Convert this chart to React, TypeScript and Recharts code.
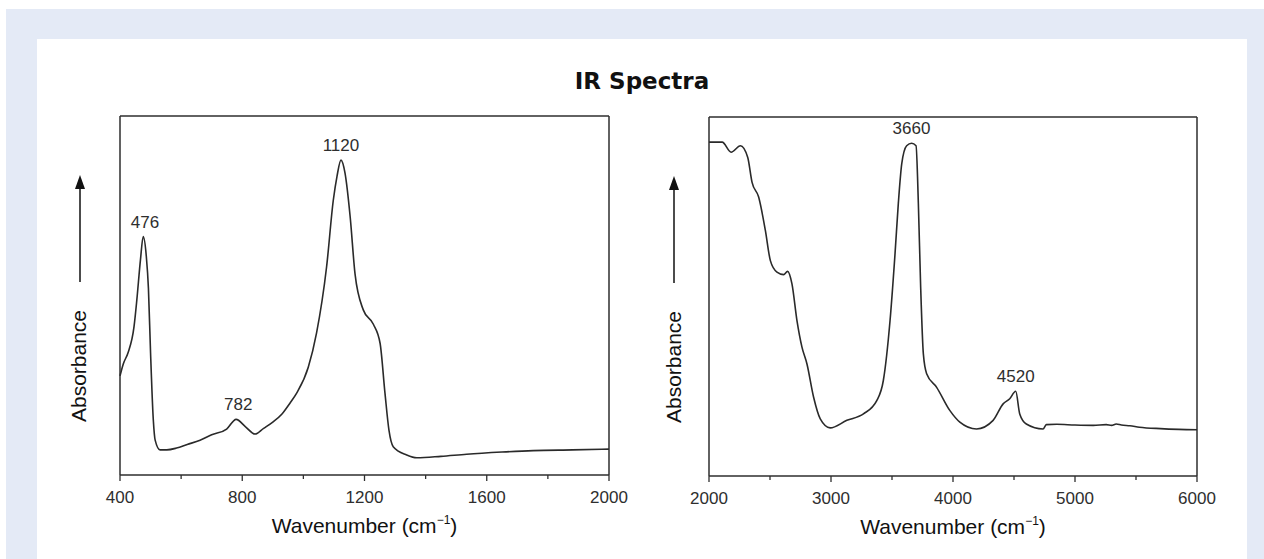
import { LineChart, Line, XAxis, YAxis, ReferenceLine, ReferenceDot } from 'recharts';

// mid-IR panel (400–2000 cm-1)
const midWavenumbers = [
  400, 411, 426, 446, 455, 467, 476, 486, 493, 500, 509, 515, 531, 553, 585, 620, 662, 700, 749,
  780, 810, 842, 870, 901, 930, 956, 978, 1016, 1043, 1076, 1098, 1110, 1123, 1136, 1153, 1169,
  1196, 1229, 1251, 1267, 1280, 1294, 1338, 1371, 1450, 1534, 1650, 1752, 1880, 2000,
];
const midAbsorbance = [
  0.276, 0.31, 0.34, 0.414, 0.487, 0.6, 0.664, 0.61, 0.52, 0.34, 0.153, 0.097, 0.07, 0.07, 0.075,
  0.085, 0.097, 0.112, 0.128, 0.155, 0.135, 0.114, 0.13, 0.148, 0.17, 0.2, 0.228, 0.3, 0.395, 0.58,
  0.766, 0.832, 0.877, 0.842, 0.72, 0.56, 0.46, 0.42, 0.367, 0.228, 0.125, 0.079, 0.056, 0.048,
  0.052, 0.058, 0.064, 0.068, 0.07, 0.072,
];
const midTicks = [400, 600, 800, 1000, 1200, 1400, 1600, 1800, 2000];
const midTickLabels = [400, 800, 1200, 1600, 2000];
const midPeaks = [
  { wn: 482, abs: 0.664, label: '476' },
  { wn: 787, abs: 0.155, label: '782' },
  { wn: 1123, abs: 0.877, label: '1120' },
];

// near-IR panel (2000–6000 cm-1)
const nearWavenumbers = [
  2000, 2108, 2181, 2258, 2317, 2353, 2407, 2462, 2503, 2557, 2612, 2644, 2680, 2721, 2762, 2803,
  2857, 2912, 2993, 3130, 3266, 3375, 3429, 3484, 3525, 3552, 3580, 3620, 3661, 3697, 3716, 3735,
  3757, 3784, 3866, 3975, 4056, 4193, 4329, 4411, 4465, 4514, 4547, 4601, 4738, 4765, 4850, 5000,
  5150, 5256, 5300, 5338, 5380, 5450, 5528, 5700, 5850, 6000,
];
const nearAbsorbance = [
  0.93, 0.93, 0.902, 0.92, 0.888, 0.818, 0.777, 0.684, 0.6, 0.568, 0.561, 0.57, 0.535, 0.433, 0.359,
  0.312, 0.22, 0.159, 0.134, 0.155, 0.173, 0.21, 0.266, 0.433, 0.62, 0.76, 0.87, 0.92, 0.927, 0.92,
  0.76, 0.526, 0.34, 0.285, 0.247, 0.182, 0.15, 0.131, 0.155, 0.201, 0.215, 0.236, 0.173, 0.145,
  0.131, 0.143, 0.144, 0.142, 0.141, 0.143, 0.141, 0.145, 0.142, 0.14, 0.136, 0.132, 0.13, 0.129,
];
const nearTicks = [2000, 2500, 3000, 3500, 4000, 4500, 5000, 5500, 6000];
const nearTickLabels = [2000, 3000, 4000, 5000, 6000];
const nearPeaks = [
  { wn: 3660, abs: 0.927, label: '3660' },
  { wn: 4514, abs: 0.236, label: '4520' },
];

const INK = '#2e2e2e';
const FONT = '"Liberation Sans", Arial, sans-serif';

const midData = midWavenumbers.map((wn, i) => ({ wn, abs: midAbsorbance[i] }));
const nearData = nearWavenumbers.map((wn, i) => ({ wn, abs: nearAbsorbance[i] }));

function makeTick(labelled: number[]) {
  return (props: any) => {
    const { x, y, payload } = props;
    const major = labelled.includes(payload.value);
    return (
      <g>
        <line x1={x} x2={x} y1={y} y2={y + (major ? 6 : 4)} stroke={INK} strokeWidth={1.3} />
        {major && (
          <text x={x} y={y + 28} textAnchor="middle" fontSize={17} fill={INK} fontFamily={FONT}>
            {payload.value}
          </text>
        )}
      </g>
    );
  };
}

function xTitle(props: any) {
  const { x, y, width } = props.viewBox;
  return (
    <text x={x + width / 2} y={y + 58} textAnchor="middle" fontSize={21} fill="#111" fontFamily={FONT}>
      Wavenumber (cm
      <tspan fontSize={12} dy={-9}>−1</tspan>
      <tspan dy={9}>)</tspan>
    </text>
  );
}

// "Absorbance" with the upward arrow, hung off the left frame line
function yTitle(textDx: number, arrowDx: number) {
  return (props: any) => {
    const { x, y } = props.viewBox;
    const ax = x + arrowDx;
    const tx = x + textDx;
    const ty = y + 250;
    return (
      <g>
        <line x1={ax} x2={ax} y1={y + 166} y2={y + 70} stroke="#111" strokeWidth={1.5} />
        <polygon points={`${ax},${y + 59} ${ax - 5},${y + 73} ${ax + 5},${y + 73}`} fill="#111" />
        <text
          x={tx}
          y={ty}
          transform={`rotate(-90 ${tx} ${ty})`}
          textAnchor="middle"
          fontSize={21}
          fill="#111"
          fontFamily={FONT}
        >
          Absorbance
        </text>
      </g>
    );
  };
}

interface PanelProps {
  data: { wn: number; abs: number }[];
  ticks: number[];
  labelled: number[];
  peaks: { wn: number; abs: number; label: string }[];
  margin: { top: number; right: number; bottom: number; left: number };
  textDx: number;
  arrowDx: number;
}

function SpectrumPanel({ data, ticks, labelled, peaks, margin, textDx, arrowDx }: PanelProps) {
  const lo = ticks[0];
  const hi = ticks[ticks.length - 1];
  return (
    <LineChart width={590} height={459} data={data} margin={margin}>
      <XAxis
        dataKey="wn"
        type="number"
        domain={[lo, hi]}
        ticks={ticks}
        interval={0}
        tickSize={0}
        tickMargin={0}
        height={60}
        tick={makeTick(labelled)}
        tickLine={false}
        axisLine={{ stroke: INK, strokeWidth: 1.5 }}
        label={{ content: xTitle }}
      />
      <YAxis type="number" domain={[0, 1]} hide />
      <ReferenceLine y={1} stroke={INK} strokeWidth={1.5} />
      <ReferenceLine x={hi} stroke={INK} strokeWidth={1.5} />
      <ReferenceLine
        x={lo}
        stroke={INK}
        strokeWidth={1.5}
        label={{ content: yTitle(textDx, arrowDx) }}
      />
      <Line
        type="monotone"
        dataKey="abs"
        stroke="#2a2a2a"
        strokeWidth={1.6}
        dot={false}
        isAnimationActive={false}
      />
      {peaks.map((p) => (
        <ReferenceDot
          key={p.label}
          x={p.wn}
          y={p.abs}
          r={0}
          fill="none"
          stroke="none"
          label={{ value: p.label, position: 'top', offset: 9, fontSize: 17, fill: INK, fontFamily: FONT }}
        />
      ))}
    </LineChart>
  );
}

export default function App() {
  return (
    <div style={{ position: 'fixed', left: 0, top: 0, width: 1264, height: 559, overflow: 'hidden', background: '#fff' }}>
      <div style={{ position: 'absolute', left: 6, top: 9, right: 0, bottom: 0, background: '#e4eaf6' }} />
      <div style={{ position: 'absolute', left: 37, top: 39, width: 1210, bottom: 0, background: '#fff' }} />
      <div
        style={{
          position: 'absolute',
          left: 37,
          width: 1210,
          top: 70,
          textAlign: 'center',
          fontFamily: '"DejaVu Sans", sans-serif',
          fontWeight: 700,
          fontSize: 23,
          lineHeight: '23px',
          color: '#111',
        }}
      >
        IR Spectra
      </div>
      <div style={{ position: 'absolute', left: 40, top: 100 }}>
        <SpectrumPanel
          data={midData}
          ticks={midTicks}
          labelled={midTickLabels}
          peaks={midPeaks}
          margin={{ top: 16, right: 21, bottom: 24, left: 80 }}
          textDx={-34}
          arrowDx={-40}
        />
      </div>
      <div style={{ position: 'absolute', left: 630, top: 100 }}>
        <SpectrumPanel
          data={nearData}
          ticks={nearTicks}
          labelled={nearTickLabels}
          peaks={nearPeaks}
          margin={{ top: 17, right: 23, bottom: 23, left: 79 }}
          textDx={-28}
          arrowDx={-35}
        />
      </div>
    </div>
  );
}
